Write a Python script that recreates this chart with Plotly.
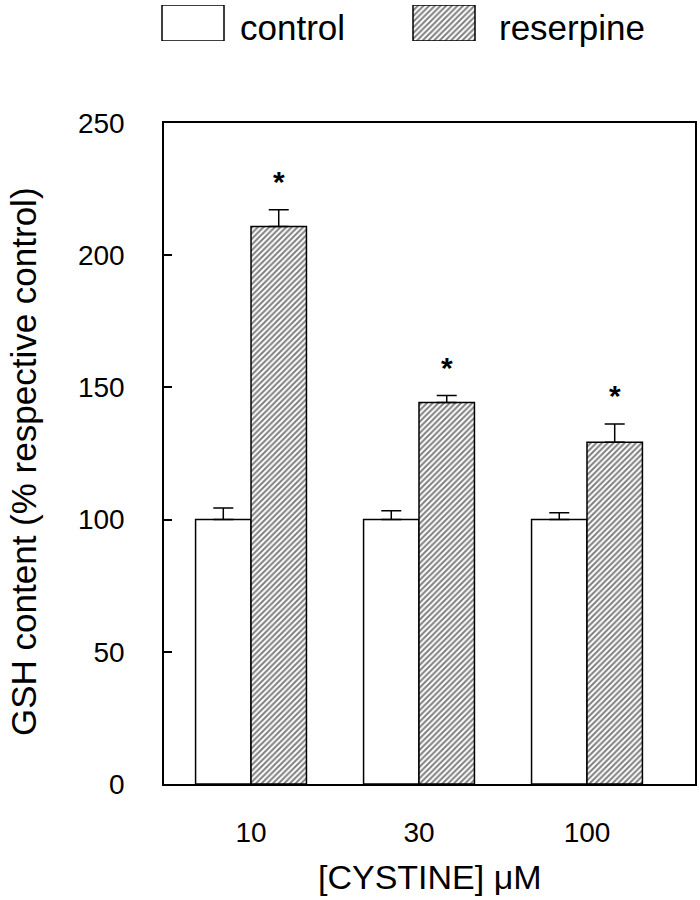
import plotly.graph_objects as go

# ---- data ----
categories = ["10", "30", "100"]
control = [100, 100, 100]
control_err = [4.4, 3.3, 2.6]
reserpine = [210.9, 144.3, 129.3]
reserpine_err = [6.3, 2.6, 6.9]
significant = [True, True, True]
y_ticks = [0, 50, 100, 150, 200, 250]

FONT = "Liberation Sans, Arial, Helvetica, sans-serif"
W, H = 700, 900
PL, PR, PT, PB = 164, 695, 123, 784   # plot box (px)
XR = [-0.518, 2.643]
BARGAP = 0.34


def fx(px):  # px -> paper x
    return px / W


def fy(px):  # px (from top) -> paper y
    return (H - px) / H


hatch = dict(shape="/", fgcolor="black", bgcolor="white", size=4, solidity=0.5)
line = dict(color="black", width=1.5)

fig = go.Figure()
fig.add_trace(go.Bar(
    x=categories, y=control, name="control", showlegend=False,
    marker=dict(color="white", line=line),
    error_y=dict(type="data", symmetric=False, array=control_err,
                 arrayminus=[0] * len(control), color="black", thickness=1.5, width=10),
))
fig.add_trace(go.Bar(
    x=categories, y=reserpine, name="reserpine", showlegend=False,
    marker=dict(color="white", line=line, pattern=hatch),
    error_y=dict(type="data", symmetric=False, array=reserpine_err,
                 arrayminus=[0] * len(reserpine), color="black", thickness=1.5, width=10),
))

# significance stars above reserpine bars (category index + half-bar offset)
bar_off = (1 - BARGAP) / 4
for i, (v, e, s) in enumerate(zip(reserpine, reserpine_err, significant)):
    if s:
        fig.add_annotation(x=i + bar_off, y=v + e, xref="x", yref="y", text="<b>*</b>",
                           showarrow=False, yshift=28,
                           font=dict(family=FONT, size=30, color="black"))

# ---- legend swatches on an auxiliary axis pair ----
legend_names = ["control", "reserpine"]
legend_patterns = [None, hatch]
sw_center = [193, 444]
txt_left = [238, 497]
for name, pat, xc, xt in zip(legend_names, legend_patterns, sw_center, txt_left):
    mk = dict(color="white", line=line)
    if pat:
        mk["pattern"] = pat
    fig.add_trace(go.Bar(x=[xc], y=[1], width=[62], base=0, marker=mk,
                         xaxis="x2", yaxis="y2", showlegend=False, hoverinfo="skip"))
    fig.add_annotation(x=fx(xt), y=fy(27), xref="paper", yref="paper", text=name,
                       showarrow=False, xanchor="left", yanchor="middle",
                       font=dict(family=FONT, size=35, color="black"))

# axis titles
fig.add_annotation(x=fx((PL + PR) / 2), y=fy(877), xref="paper", yref="paper",
                   text="[CYSTINE] μM", showarrow=False, xanchor="center", yanchor="middle",
                   font=dict(family=FONT, size=34, color="black"))
fig.add_annotation(x=fx(23), y=fy(462), xref="paper", yref="paper",
                   text="GSH content (% respective control)", textangle=-90,
                   showarrow=False, xanchor="center", yanchor="middle",
                   font=dict(family=FONT, size=35, color="black"))

fig.update_layout(
    width=W, height=H,
    margin=dict(l=0, r=0, t=0, b=0),
    paper_bgcolor="white", plot_bgcolor="white",
    barmode="group", bargap=BARGAP, bargroupgap=0,
    font=dict(family=FONT, color="black"),
    xaxis=dict(domain=[fx(PL), fx(PR)], type="category", range=XR,
               showline=True, linecolor="black", linewidth=1.5, mirror=True,
               ticks="", showgrid=False, automargin=False,
               tickfont=dict(size=28), ticklabelstandoff=23),
    yaxis=dict(domain=[fy(PB), fy(PT)], range=[0, 250],
               tickvals=y_ticks, showline=True, linecolor="black", linewidth=1.5,
               mirror=True, ticks="inside", ticklen=8, tickwidth=1.5, tickcolor="black",
               showgrid=False, zeroline=False, automargin=False,
               tickfont=dict(size=28), ticklabelstandoff=32),
    xaxis2=dict(domain=[0, 1], range=[0, W], visible=False, anchor="y2"),
    yaxis2=dict(domain=[fy(41), fy(5)], range=[0, 1], visible=False, anchor="x2"),
)

# remove the browser's default page margin so the figure fills the window exactly
fig.write_html("out.html", config={"displayModeBar": False},
               post_script="document.body.style.margin='0';")
